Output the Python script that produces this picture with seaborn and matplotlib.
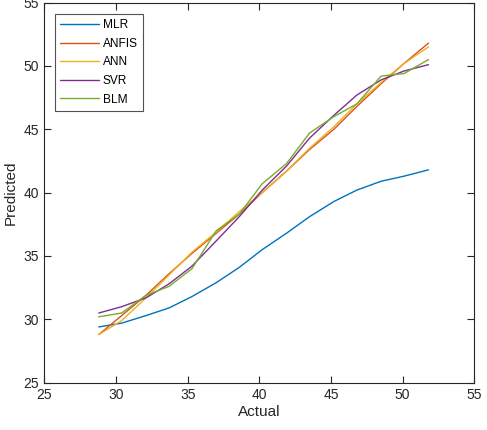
import matplotlib
matplotlib.use("Agg")
import matplotlib.pyplot as plt
import seaborn as sns
import pandas as pd

actual = [28.8, 30.4, 32.1, 33.7, 35.3, 37.0, 38.6, 40.2, 41.9, 43.5, 45.2, 46.8, 48.5, 50.1, 51.8]
mlr = [29.4, 29.7, 30.3, 30.9, 31.8, 32.9, 34.1, 35.5, 36.8, 38.1, 39.3, 40.2, 40.9, 41.3, 41.8]
anfis = [28.8, 30.3, 31.9, 33.6, 35.2, 36.8, 38.3, 40.0, 41.7, 43.4, 45.0, 46.8, 48.6, 50.2, 51.8]
ann = [28.8, 29.9, 31.7, 33.5, 35.3, 36.9, 38.5, 40.0, 41.7, 43.5, 45.2, 47.0, 48.7, 50.2, 51.5]
svr = [30.5, 31.0, 31.7, 32.8, 34.2, 36.2, 38.1, 40.2, 42.1, 44.3, 46.1, 47.7, 48.9, 49.6, 50.1]
blm = [30.2, 30.5, 31.9, 32.6, 34.0, 37.0, 38.3, 40.7, 42.3, 44.7, 46.0, 47.0, 49.2, 49.4, 50.5]

models = ["MLR", "ANFIS", "ANN", "SVR", "BLM"]
colors = ["#0072BD", "#D95319", "#EDB120", "#7E2F8E", "#77AC30"]
series = [mlr, anfis, ann, svr, blm]

x_ticks = [25, 30, 35, 40, 45, 50, 55]
y_ticks = [25, 30, 35, 40, 45, 50, 55]

rows = []
for m, vals in zip(models, series):
    for a, p in zip(actual, vals):
        rows.append({"Actual": a, "Predicted": p, "Model": m})
df = pd.DataFrame(rows)

sns.set_style("white")
plt.rcParams["font.family"] = ["Liberation Sans", "DejaVu Sans"]

fig = plt.figure(figsize=(4.87, 4.30), dpi=100)
ax = fig.add_axes([0.091, 0.110, 0.883, 0.884])

for m, c in zip(models, colors):
    sns.lineplot(data=df[df["Model"] == m], x="Actual", y="Predicted",
                 color=c, linewidth=1.0, ax=ax, label=m, estimator=None, sort=False)

ax.set_xlim(25, 55)
ax.set_ylim(25, 55)
ax.set_xticks(x_ticks)
ax.set_yticks(y_ticks)
ax.set_xticklabels([str(t) for t in x_ticks])
ax.set_yticklabels([str(t) for t in y_ticks])

gray = "#262626"
for s in ax.spines.values():
    s.set_visible(True)
    s.set_color(gray)
    s.set_linewidth(0.8)
ax.tick_params(direction="in", length=5, width=0.8, color=gray, labelcolor=gray,
               labelsize=10, top=True, right=True, bottom=True, left=True, pad=4)
ax.set_xlabel("Actual", fontsize=11, color=gray, labelpad=2)
ax.set_ylabel("Predicted", fontsize=11, color=gray, labelpad=4)
ax.grid(False)

leg = ax.legend(loc="upper left", bbox_to_anchor=(0.025, 0.970), borderaxespad=0,
                fontsize=8.6, handlelength=3.25, handletextpad=0.3, labelspacing=0.55,
                borderpad=0.45, fancybox=False, frameon=True)
leg.get_frame().set_edgecolor(gray)
leg.get_frame().set_linewidth(0.8)
for t in leg.get_texts():
    t.set_color("black")

fig.savefig("out.png", dpi=100)
